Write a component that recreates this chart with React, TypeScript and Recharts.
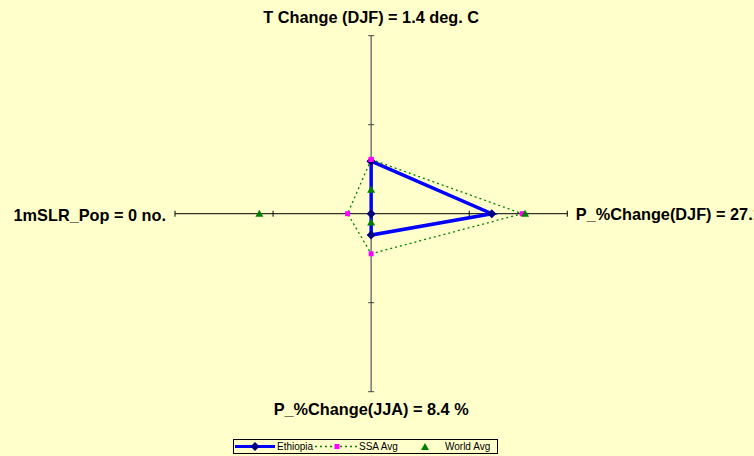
import * as React from "react"
import { ScatterChart, Scatter, XAxis, YAxis, ReferenceLine, ReferenceDot, Legend } from "recharts"

// axes go clockwise from the top
const axisLabels = ["T Change (DJF) = 1.4 deg. C", "P_%Change(DJF) = 27.1 %", "P_%Change(JJA) = 8.4 %", "1mSLR_Pop = 0 no."]
const axisAngles = [90, 0, -90, 180]
const axisTicks = [-2, -1, 1, 2]

// values on the normalised radar scale (axis length = 2)
const ethiopia = [0.59, 1.23, 0.24, 0]
const ssaAvg = [0.61, 1.54, 0.45, 0.24]
const worldAvg = [0.27, 1.57, 0.1, 1.14]

const BG = "#FFFFCC"
const FONT = "'Liberation Sans', Arial, sans-serif"

const toPoints = (vals: number[], closed: boolean) => {
  const pts = vals.map((v, i) => {
    const a = (axisAngles[i] * Math.PI) / 180
    return { x: Math.round(v * Math.cos(a) * 1000) / 1000, y: Math.round(v * Math.sin(a) * 1000) / 1000 }
  })
  return closed ? [...pts, pts[0]] : pts
}

const Diamond = ({ cx, cy }: any) => (
  <polygon points={`${cx},${cy - 4.5} ${cx + 4.5},${cy} ${cx},${cy + 4.5} ${cx - 4.5},${cy}`} fill="#000080" />
)
const Square = ({ cx, cy }: any) => <rect x={cx - 2.5} y={cy - 2.5} width={5} height={5} fill="#FF00FF" />
const Triangle = ({ cx, cy }: any) => (
  <polygon points={`${cx},${cy - 4} ${cx + 4},${cy + 3} ${cx - 4},${cy + 3}`} fill="#008000" />
)

const hTick = (p: any) => <line x1={p.cx} x2={p.cx} y1={p.cy - 3} y2={p.cy + 3} stroke="#000" strokeWidth={1} />
const vTick = (p: any) => <line x1={p.cx - 3} x2={p.cx + 3} y1={p.cy} y2={p.cy} stroke="#444" strokeWidth={1} />

const labelPlacement = [
  { dx: 0, dy: -12.5, anchor: "middle" },
  { dx: 8.5, dy: 6.5, anchor: "start" },
  { dx: 0, dy: 23, anchor: "middle" },
  { dx: -9, dy: 7, anchor: "end" },
]

const axisLabel = (i: number) => (p: any) => (
  <text
    x={p.cx + labelPlacement[i].dx}
    y={p.cy + labelPlacement[i].dy}
    textAnchor={labelPlacement[i].anchor as any}
    fontFamily={FONT}
    fontSize={16.3}
    fontWeight="bold"
    fill="#000"
  >
    {axisLabels[i]}
  </text>
)

const renderLegend = () => (
  <svg width={265} height={16} style={{ display: "block" }}>
    <rect x={0.5} y={0.5} width={264} height={14} fill={BG} stroke="#000" />
    <line x1={2} x2={42} y1={7.5} y2={7.5} stroke="#0000FF" strokeWidth={3} />
    <Diamond cx={22} cy={7.5} />
    <text x={44} y={11} fontFamily={FONT} fontSize={10} fill="#000">Ethiopia</text>
    <line x1={82} x2={124} y1={7.5} y2={7.5} stroke="#008000" strokeWidth={1.5} strokeDasharray="2 3" />
    <Square cx={104} cy={7.5} />
    <text x={126} y={11} fontFamily={FONT} fontSize={10} fill="#000">SSA Avg</text>
    <Triangle cx={192} cy={8} />
    <text x={212} y={11} fontFamily={FONT} fontSize={10} fill="#000">World Avg</text>
  </svg>
)

export default function App() {
  const ends = axisAngles.map((deg) => {
    const a = (deg * Math.PI) / 180
    return { x: Math.round(2 * Math.cos(a)), y: Math.round(2 * Math.sin(a)) }
  })

  return (
    <div style={{ position: "absolute", left: 0, top: 0, width: 754, height: 456, background: BG }}>
      <ScatterChart width={754} height={456} margin={{ top: 35.7, right: 186.7, bottom: 64.3, left: 175 }}>
        <XAxis type="number" dataKey="x" domain={[-2, 2]} hide allowDataOverflow />
        <YAxis type="number" dataKey="y" domain={[-2, 2]} hide allowDataOverflow />
        <ReferenceLine x={0} stroke="#777" strokeWidth={1.5} />
        <ReferenceLine y={0} stroke="#000" strokeWidth={1} />
        {axisTicks.map((t) => (
          <ReferenceDot key={`h${t}`} x={t} y={0} r={0} shape={hTick} />
        ))}
        {axisTicks.map((t) => (
          <ReferenceDot key={`v${t}`} x={0} y={t} r={0} shape={vTick} />
        ))}
        {ends.map((e, i) => (
          <ReferenceDot key={`l${i}`} x={e.x} y={e.y} r={0} shape={axisLabel(i)} />
        ))}
        <Scatter
          name="Ethiopia"
          data={toPoints(ethiopia, true)}
          line={{ stroke: "#0000FF", strokeWidth: 3.5 }}
          lineType="joint"
          shape={Diamond}
          isAnimationActive={false}
        />
        <Scatter
          name="SSA Avg"
          data={toPoints(ssaAvg, true)}
          line={{ stroke: "#008000", strokeWidth: 1.3, strokeDasharray: "2 3" }}
          lineType="joint"
          shape={Square}
          isAnimationActive={false}
        />
        <Scatter name="World Avg" data={toPoints(worldAvg, false)} shape={Triangle} isAnimationActive={false} />
        <Legend
          content={renderLegend}
          layout="horizontal"
          align="center"
          verticalAlign="middle"
          wrapperStyle={{ left: 233, top: 439, width: 265, height: 16 }}
        />
      </ScatterChart>
    </div>
  )
}
